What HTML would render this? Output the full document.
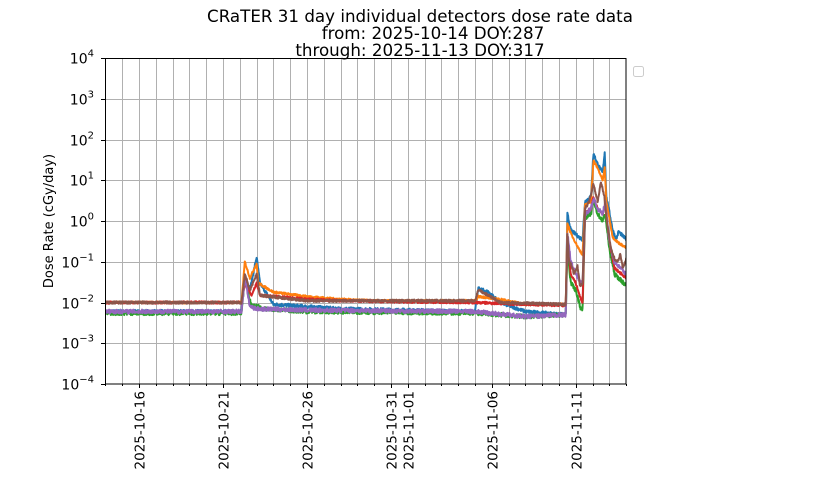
<!DOCTYPE html>
<html><head><meta charset="utf-8"><style>
body{margin:0;background:#fff;}
svg{display:block;font-family:"DejaVu Sans","Liberation Sans",sans-serif;}
</style></head><body>
<svg id="s" width="840" height="480" xmlns="http://www.w3.org/2000/svg">
<rect width="840" height="480" fill="#fff"/>
<g font-size="16.7" text-anchor="middle" fill="#000">
<text x="420" y="22">CRaTER 31 day individual detectors dose rate data</text>
<text x="433" y="39">from: 2025-10-14 DOY:287</text>
<text x="420" y="56">through: 2025-11-13 DOY:317</text>
</g>
<g id="grid" stroke="#b0b0b0" stroke-width="1"></g>
<defs><clipPath id="cp"><rect x="105" y="58" width="521" height="326"/></clipPath></defs>
<g id="data" clip-path="url(#cp)" fill="none" stroke-width="2" stroke-linejoin="round"></g>
<rect x="105.5" y="58.5" width="520.5" height="325.5" fill="none" stroke="#000" stroke-width="1"/>
<g id="ticks" stroke="#000" stroke-width="1"></g>
<g id="labels" font-size="14" fill="#000"></g>
<text transform="translate(53,221) rotate(-90)" font-size="13" text-anchor="middle">Dose Rate (cGy/day)</text>
<rect x="633.5" y="66.5" width="10" height="10" rx="2" fill="none" stroke="#ccc"/>
</svg>
<script>
const NS="http://www.w3.org/2000/svg";
function el(p,t,a,txt){const e=document.createElementNS(NS,t);for(const k in a)e.setAttribute(k,a[k]);if(txt!==undefined)e.textContent=txt;p.appendChild(e);return e;}
const X=d=>105.4+d*16.8, Y=v=>221-Math.log10(v)*40.75;
const G=document.getElementById('grid'),T=document.getElementById('ticks'),L=document.getElementById('labels'),D=document.getElementById('data');
for(let d=1;d<31;d++){const x=Math.round(X(d))+0.5;el(G,'line',{x1:x,x2:x,y1:58,y2:384});}
for(let e=-3;e<=3;e++){const y=Math.round(Y(Math.pow(10,e)))+0.5;el(G,'line',{x1:105,x2:626,y1:y,y2:y});}
for(let e=-4;e<=4;e++){const y=Math.round(Y(Math.pow(10,e)))+0.5;el(T,'line',{x1:101,x2:105,y1:y,y2:y});
 const t=el(L,'text',{x:94,y:y+5,'text-anchor':'end'},'10');el(t,'tspan',{dy:-7,'font-size':10},(e<0?'−':'')+Math.abs(e));}
for(let d=0;d<=31;d++){const x=Math.round(X(d))+0.5;el(T,'line',{x1:x,x2:x,y1:384,y2:386});}
const labs=[[2,'2025-10-16'],[7,'2025-10-21'],[12,'2025-10-26'],[17,'2025-10-31'],[18,'2025-11-01'],[23,'2025-11-06'],[28,'2025-11-11']];
labs.forEach(([d,s])=>{const x=Math.round(X(d))+0.5;el(T,'line',{x1:x,x2:x,y1:384,y2:388});
 el(L,'text',{transform:`translate(${x+5},391) rotate(-90)`,'text-anchor':'end','font-size':13.5},s);});
const S=[
['#1f77b4',.08,[[0,.006],[8.1,.006],[8.3,.05],[8.6,.02],[9.0,.13],[9.2,.03],[10,.009],[14,.007],[22,.006],[22.2,.022],[22.8,.018],[23.5,.01],[25,.006],[27.4,.005],[27.5,1.5],[27.7,.6],[28.2,.4],[28.4,.35],[28.55,3],[28.9,4],[29.05,45],[29.3,25],[29.6,15],[29.72,50],[29.82,4],[30.2,.6],[30.4,.35],[30.55,.55],[31,.35]]],
['#ff7f0e',.05,[[0,.01],[8.1,.01],[8.3,.1],[8.6,.04],[9.0,.09],[9.1,.03],[10,.018],[12,.014],[14,.012],[16,.011],[22,.011],[22.2,.014],[23.5,.012],[25,.009],[27.4,.009],[27.5,.9],[27.7,.5],[28.2,.2],[28.4,.15],[28.55,2.5],[28.9,3],[29.05,30],[29.3,20],[29.6,10],[29.72,20],[29.82,3],[30.2,.4],[30.5,.3],[31,.22]]],
['#2ca02c',.1,[[0,.0055],[8.1,.0055],[8.3,.04],[8.7,.008],[9.1,.008],[9.3,.007],[12,.006],[22,.0055],[25,.0045],[27.4,.005],[27.5,.2],[27.7,.03],[28.0,.02],[28.3,.007],[28.4,.0065],[28.55,1.2],[28.9,1.5],[29.05,3],[29.3,1.5],[29.6,1],[29.75,1.5],[30.0,.2],[30.3,.05],[31,.026]]],
['#d62728',.06,[[0,.01],[8.1,.01],[8.3,.03],[8.7,.015],[9,.03],[9.2,.015],[12,.012],[14,.011],[22,.01],[25,.009],[27.4,.0085],[27.5,.3],[27.7,.05],[28.0,.03],[28.3,.012],[28.4,.01],[28.55,1.5],[28.9,2],[29.05,4],[29.3,2],[29.6,1.5],[29.75,2.5],[30.0,.3],[30.3,.07],[31,.04]]],
['#9467bd',.1,[[0,.006],[8.1,.006],[8.3,.04],[8.6,.008],[9,.007],[12,.0065],[22,.006],[25,.0045],[27.4,.005],[27.5,.5],[27.7,.1],[28.0,.05],[28.3,.03],[28.4,.03],[28.55,1.5],[28.9,2],[29.05,3.5],[29.3,2],[29.6,1.5],[29.75,3],[30.0,.3],[30.3,.1],[31,.05]]],
['#8c564b',.06,[[0,.01],[8.1,.01],[8.3,.05],[8.6,.02],[9,.05],[9.2,.015],[12,.011],[22,.011],[22.2,.02],[22.8,.015],[23.5,.01],[27.4,.009],[27.5,.5],[27.6,.1],[27.75,.08],[27.9,.05],[28.1,.08],[28.25,.025],[28.4,.03],[28.55,2],[28.8,3],[29.05,8],[29.3,3],[29.5,9],[29.7,4],[29.85,1],[30.1,.2],[30.3,.12],[30.5,.1],[30.65,.15],[30.8,.07],[31,.12]]]];
let seed=7;const rnd=()=>{seed=(seed*16807)%2147483647;return seed/2147483647;};
S.forEach(([c,n,k])=>{let pts=[];let j=0;
 for(let d=0;d<=31;d+=0.02){while(j<k.length-2&&k[j+1][0]<d)j++;
  const [d0,v0]=k[j],[d1,v1]=k[j+1];let f=Math.min(1,Math.max(0,(d-d0)/(d1-d0)));
  let lv=Math.log10(v0)+(Math.log10(v1)-Math.log10(v0))*f+(rnd()-0.5)*n;
  pts.push(X(d).toFixed(1)+','+Y(Math.pow(10,lv)).toFixed(1));}
 el(D,'polyline',{points:pts.join(' '),stroke:c});});
</script>
</body></html>
